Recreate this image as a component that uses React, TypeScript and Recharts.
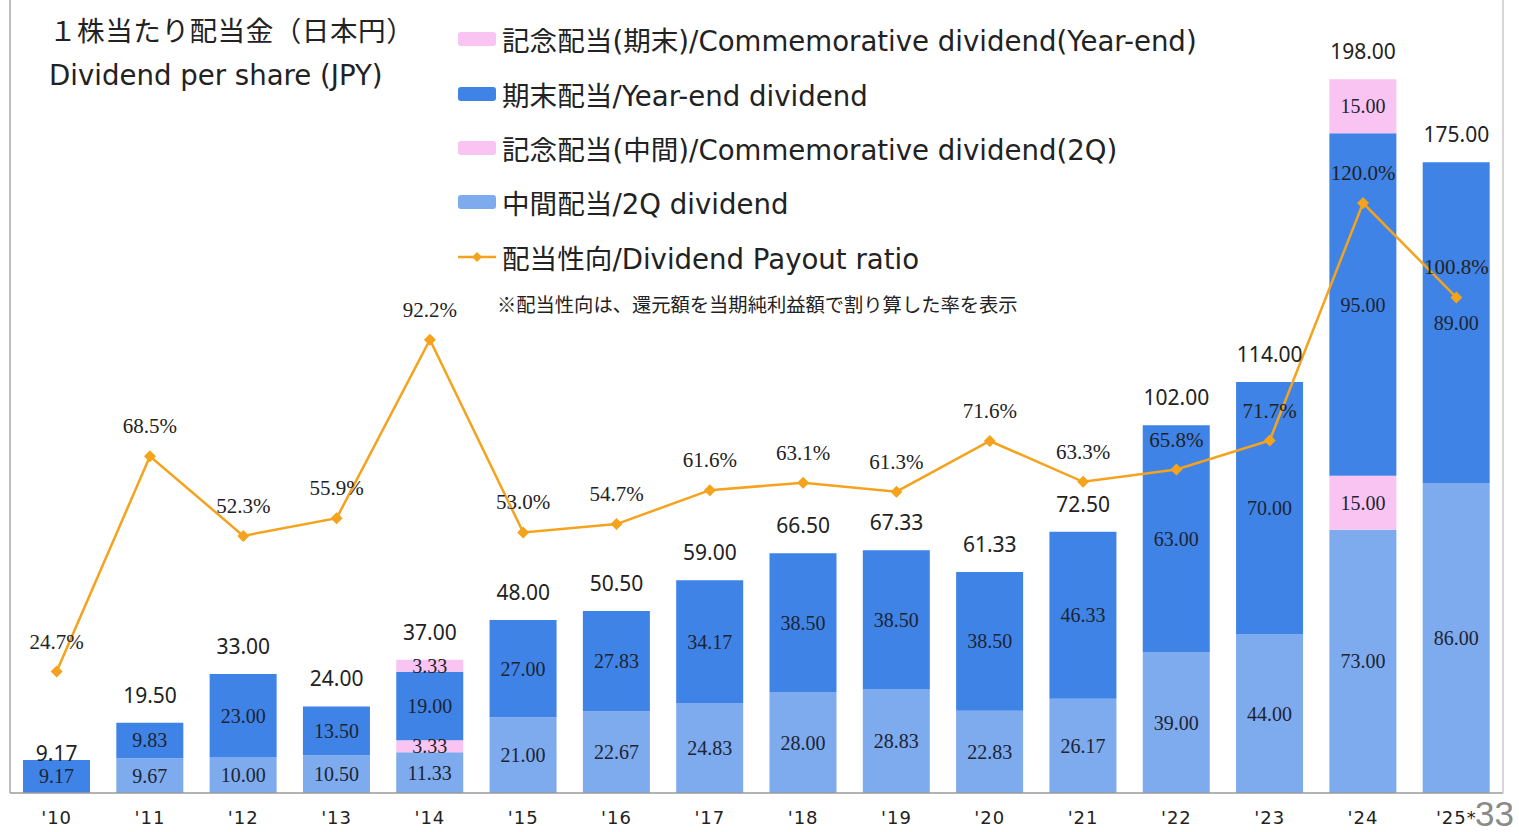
import { ComposedChart, Bar, Line, XAxis, YAxis, LabelList } from 'recharts';

const years = ["'10", "'11", "'12", "'13", "'14", "'15", "'16", "'17", "'18", "'19", "'20", "'21", "'22", "'23", "'24", "'25*"];
const interim = [0, 9.67, 10.0, 10.5, 11.33, 21.0, 22.67, 24.83, 28.0, 28.83, 22.83, 26.17, 39.0, 44.0, 73.0, 86.0];
const interimCommem = [0, 0, 0, 0, 3.33, 0, 0, 0, 0, 0, 0, 0, 0, 0, 15.0, 0];
const yearEnd = [9.17, 9.83, 23.0, 13.5, 19.0, 27.0, 27.83, 34.17, 38.5, 38.5, 38.5, 46.33, 63.0, 70.0, 95.0, 89.0];
const yearEndCommem = [0, 0, 0, 0, 3.33, 0, 0, 0, 0, 0, 0, 0, 0, 0, 15.0, 0];
const totals = [9.17, 19.5, 33.0, 24.0, 37.0, 48.0, 50.5, 59.0, 66.5, 67.33, 61.33, 72.5, 102.0, 114.0, 198.0, 175.0];
const payout = [24.7, 68.5, 52.3, 55.9, 92.2, 53.0, 54.7, 61.6, 63.1, 61.3, 71.6, 63.3, 65.8, 71.7, 120.0, 100.8];

const data = years.map((year, i) => ({
    year,
    interim: interim[i],
    interimCommem: interimCommem[i],
    yearEnd: yearEnd[i],
    yearEndCommem: yearEndCommem[i],
    total: totals[i],
    payout: payout[i],
}));

const BLUE = '#3f83e6';
const LIGHT_BLUE = '#7eaaee';
const PINK = '#f9c4f1';
const ORANGE = '#f5a21c';

const SANS = '"DejaVu Sans", "Noto Sans CJK JP", sans-serif';

const segmentLabel = (props: any) => {
    const { x, y, width, height, value } = props;
    if (!value) return null;
    return (
        <text
            x={x + width / 2}
            y={y + height / 2}
            textAnchor="middle"
            dominantBaseline="central"
            fontFamily='"Liberation Serif", serif'
            fontSize={20}
            fill="#1d2433"
        >
            {Number(value).toFixed(2)}
        </text>
    );
};

const totalLabel = (props: any) => {
    const { x, y, value } = props;
    const off = value < 15 ? 7 : 28;
    return (
        <text x={x} y={y - off} textAnchor="middle" dominantBaseline="central"
            fontFamily='"Noto Sans", sans-serif' fontSize={21} fill="#222">
            {Number(value).toFixed(2)}
        </text>
    );
};

const payoutLabel = (props: any) => {
    const { x, y, value } = props;
    return (
        <text x={x} y={y - 30} textAnchor="middle" dominantBaseline="central"
            fontFamily='"Liberation Serif", serif' fontSize={21} fill="#222">
            {Number(value).toFixed(1)}%
        </text>
    );
};

const Diamond = (props: any) => {
    const { cx, cy } = props;
    if (cx == null || cy == null) return null;
    return <path d={`M${cx},${cy - 6} L${cx + 6},${cy} L${cx},${cy + 6} L${cx - 6},${cy} Z`} fill={ORANGE} />;
};

const legendItems = [
    { label: '記念配当(期末)/Commemorative dividend(Year-end)', color: PINK, kind: 'box' },
    { label: '期末配当/Year-end dividend', color: BLUE, kind: 'box' },
    { label: '記念配当(中間)/Commemorative dividend(2Q)', color: PINK, kind: 'box' },
    { label: '中間配当/2Q dividend', color: LIGHT_BLUE, kind: 'box' },
    { label: '配当性向/Dividend Payout ratio', color: ORANGE, kind: 'line' },
];

function Legend() {
    return (
        <div style={{ position: 'absolute', left: 458, top: 12 }}>
            {legendItems.map((item) => (
                <div key={item.label} style={{ display: 'flex', alignItems: 'center', height: 54.4 }}>
                    {item.kind === 'box' ? (
                        <div style={{ width: 38, height: 14, background: item.color, borderRadius: 3 }} />
                    ) : (
                        <svg width={38} height={14}>
                            <line x1={0} y1={7} x2={38} y2={7} stroke={ORANGE} strokeWidth={2.5} />
                            <path d="M19,2 L24,7 L19,12 L14,7 Z" fill={ORANGE} />
                        </svg>
                    )}
                    <span style={{ marginLeft: 6, fontFamily: SANS, fontSize: 27.6, color: '#222', whiteSpace: 'nowrap' }}>
                        {item.label}
                    </span>
                </div>
            ))}
        </div>
    );
}

export default function App() {
    return (
        <div style={{ position: 'absolute', left: 0, top: 0, width: 1519, height: 832, background: '#fff', overflow: 'hidden' }}>
            <ComposedChart
                width={1519}
                height={832}
                data={data}
                margin={{ top: 0, right: 15, bottom: 0, left: 9 }}
            >
                <XAxis
                    dataKey="year"
                    height={39}
                    tickLine={false}
                    axisLine={{ stroke: '#9a9a9a', strokeWidth: 1.5 }}
                    tick={{ fill: '#222', fontSize: 18, fontFamily: SANS, letterSpacing: 1 }}
                    tickMargin={12}
                    interval={0}
                />
                <YAxis yAxisId="left" domain={[0, 220]} width={1} tick={false} tickLine={false}
                    axisLine={{ stroke: '#a8a8a8', strokeWidth: 1.5 }} />
                <YAxis yAxisId="right" orientation="right" domain={[0, 161.3]} width={1} tick={false} tickLine={false}
                    axisLine={{ stroke: '#c8c8c8', strokeWidth: 1.5 }} />
                <Bar yAxisId="left" dataKey="interim" stackId="a" fill={LIGHT_BLUE} barSize={67} isAnimationActive={false}>
                    <LabelList dataKey="interim" content={segmentLabel} />
                </Bar>
                <Bar yAxisId="left" dataKey="interimCommem" stackId="a" fill={PINK} barSize={67} isAnimationActive={false}>
                    <LabelList dataKey="interimCommem" content={segmentLabel} />
                </Bar>
                <Bar yAxisId="left" dataKey="yearEnd" stackId="a" fill={BLUE} barSize={67} isAnimationActive={false}>
                    <LabelList dataKey="yearEnd" content={segmentLabel} />
                </Bar>
                <Bar yAxisId="left" dataKey="yearEndCommem" stackId="a" fill={PINK} barSize={67} isAnimationActive={false}>
                    <LabelList dataKey="yearEndCommem" content={segmentLabel} />
                </Bar>
                <Line yAxisId="left" dataKey="total" stroke="none" dot={false} activeDot={false} isAnimationActive={false}>
                    <LabelList dataKey="total" content={totalLabel} />
                </Line>
                <Line yAxisId="right" dataKey="payout" stroke={ORANGE} strokeWidth={2.5} dot={<Diamond />}
                    activeDot={false} isAnimationActive={false}>
                    <LabelList dataKey="payout" content={payoutLabel} />
                </Line>
            </ComposedChart>

            <div style={{ position: 'absolute', left: 49, top: 10, fontFamily: SANS, fontSize: 27.6, color: '#222', lineHeight: '44px' }}>
                <div style={{ letterSpacing: 0.5 }}>１株当たり配当金（日本円）</div>
                <div>Dividend per share (JPY)</div>
            </div>
            <Legend />
            <div style={{ position: 'absolute', left: 497, top: 290, fontFamily: '"Noto Sans CJK JP", sans-serif', fontSize: 19.3, color: '#222', whiteSpace: 'nowrap' }}>
                ※配当性向は、還元額を当期純利益額で割り算した率を表示
            </div>
            <div style={{ position: 'absolute', left: 1475, top: 794, fontFamily: '"Liberation Sans", sans-serif', fontSize: 35, color: '#8a8a8a', lineHeight: '40px' }}>
                33
            </div>
        </div>
    );
}
